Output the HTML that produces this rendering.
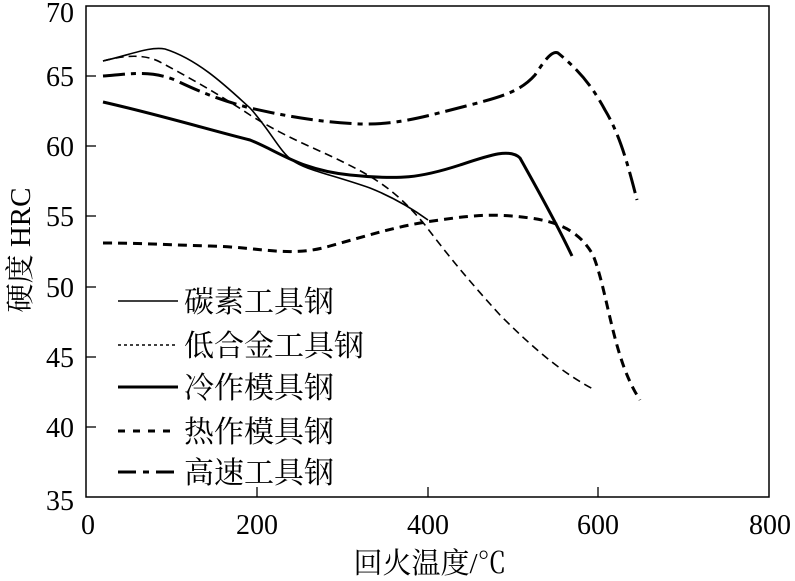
<!DOCTYPE html>
<html><head><meta charset="utf-8"><style>
html,body{margin:0;padding:0;background:#fff;}
svg{display:block;}
text{font-family:"Liberation Serif","Noto Serif CJK SC",serif;fill:#000;}
</style></head><body>
<svg width="795" height="581" viewBox="0 0 795 581" xmlns="http://www.w3.org/2000/svg">
<rect x="86" y="6" width="683" height="491" fill="none" stroke="#000" stroke-width="1.5"/>
<g stroke="#000" stroke-width="1.3">
<line x1="86" y1="76" x2="96" y2="76"/><line x1="86" y1="146" x2="96" y2="146"/><line x1="86" y1="216" x2="96" y2="216"/><line x1="86" y1="287" x2="96" y2="287"/><line x1="86" y1="357" x2="96" y2="357"/><line x1="86" y1="427" x2="96" y2="427"/>
<line x1="257" y1="497" x2="257" y2="487"/><line x1="428" y1="497" x2="428" y2="487"/><line x1="598" y1="497" x2="598" y2="487"/>
</g>
<g font-size="28" text-anchor="end">
<text x="74" y="22">70</text><text x="74" y="86">65</text><text x="74" y="156">60</text><text x="74" y="226">55</text><text x="74" y="297">50</text><text x="74" y="367">45</text><text x="74" y="437">40</text><text x="74" y="510">35</text>
</g>
<g font-size="28" text-anchor="middle">
<text x="88" y="534">0</text><text x="257" y="534">200</text><text x="428" y="534">400</text><text x="598" y="534">600</text><text x="770" y="534">800</text>
</g>
<text x="430" y="573" font-size="29" text-anchor="middle">回火温度/℃</text>
<text transform="translate(30,250) rotate(-90)" font-size="29" text-anchor="middle">硬度 HRC</text>
<g fill="none" stroke="#000" stroke-linecap="butt" stroke-linejoin="round">
<path d="M103,61 C130,55 150,46 165,49 C200,60 230,90 250,108 C270,130 280,152 292,160 C305,170 330,174 370,188 C390,196 410,207 428,220" stroke-width="1.6"/>
<path d="M103,61 C125,55 145,54 160,62 C190,78 220,95 250,115 C290,140 320,150 345,163 C380,180 400,195 425,225 C450,258 470,282 500,315 C530,345 560,372 595,390" stroke-width="1.6" stroke-dasharray="8,5"/>
<path d="M103,102 C160,115 210,130 250,140 C280,152 300,170 350,175 C400,180 420,178 460,165 C490,155 510,148 520,158 C535,185 555,220 572,256" stroke-width="3"/>
<path d="M103,243 C140,243 170,245 210,246 C260,247 290,258 330,246 C370,235 400,225 440,220 C480,214 500,214 530,218 C560,222 580,232 593,255 C605,285 610,330 625,370 C632,388 637,395 640,400" stroke-width="3" stroke-dasharray="9,6"/>
<path d="M103,76 C130,74 150,70 175,80 C200,92 220,100 250,108 C290,117 320,122 360,124 C400,125 430,115 470,105 C500,97 520,92 535,75 C545,60 552,50 558,53 C575,67 590,82 605,110 C620,135 628,165 637,200" stroke-width="3" stroke-dasharray="22,6,5,6"/>
</g>
<g fill="none" stroke="#000">
<line x1="118" y1="301" x2="178" y2="301" stroke-width="1.6"/>
<line x1="118" y1="345" x2="178" y2="345" stroke-width="1.6" stroke-dasharray="3,3"/>
<line x1="118" y1="387" x2="178" y2="387" stroke-width="3"/>
<line x1="118" y1="431" x2="178" y2="431" stroke-width="3" stroke-dasharray="7,8"/>
<line x1="118" y1="472" x2="178" y2="472" stroke-width="3" stroke-dasharray="18,7,6,7"/>
</g>
<g font-size="30">
<text x="184" y="312">碳素工具钢</text>
<text x="184" y="356">低合金工具钢</text>
<text x="184" y="398">冷作模具钢</text>
<text x="184" y="442">热作模具钢</text>
<text x="184" y="483">高速工具钢</text>
</g>
</svg>
</body></html>
